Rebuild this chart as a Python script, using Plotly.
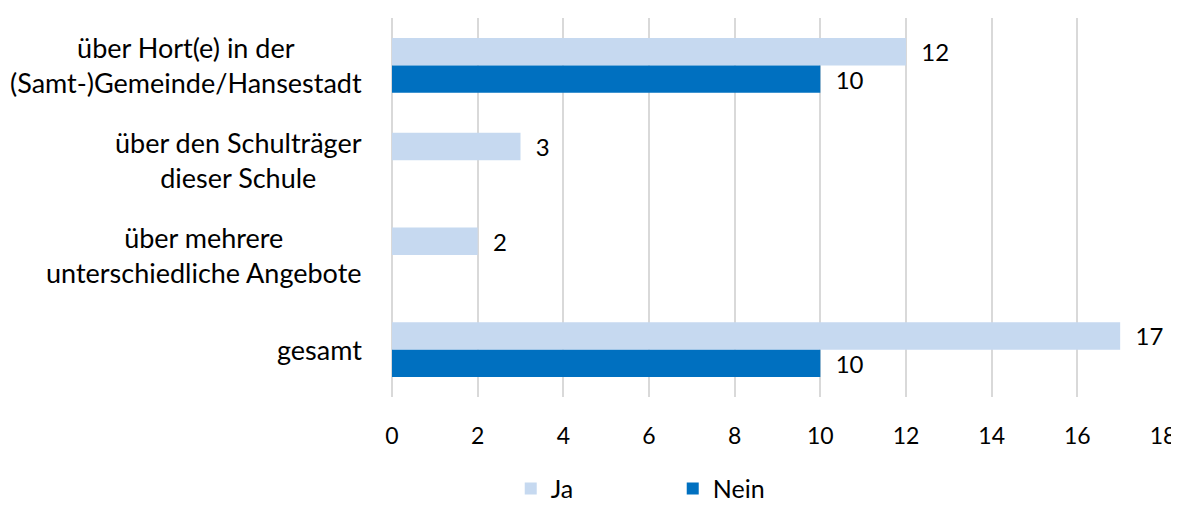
import plotly.graph_objects as go

categories = [
    "über Hort(e) in der<br>(Samt-)Gemeinde/Hansestadt",
    "über den Schulträger<br>dieser Schule",
    "über mehrere<br>unterschiedliche Angebote",
    "gesamt",
]
ja_values = [12, 3, 2, 17]
nein_values = [10, None, None, 10]
x_ticks = [0, 2, 4, 6, 8, 10, 12, 14, 16, 18]

FONT = "Lato"
JA_COLOR = "#C6D9F0"
NEIN_COLOR = "#0070C0"
GRID = "#D9D9D9"

fig = go.Figure()
fig.add_trace(go.Bar(
    name="Ja", y=categories, x=ja_values, orientation="h",
    marker_color=JA_COLOR, marker_line_width=0,
    texttemplate="\u00a0\u00a0%{x}", textposition="outside", constraintext="none",
    textfont=dict(family=FONT, size=24, color="#000000"), cliponaxis=False,
))
fig.add_trace(go.Bar(
    name="Nein", y=categories, x=nein_values, orientation="h",
    marker_color=NEIN_COLOR, marker_line_width=0,
    texttemplate="\u00a0\u00a0%{x}", textposition="outside", constraintext="none",
    textfont=dict(family=FONT, size=24, color="#000000"), cliponaxis=False,
))

for c in categories:
    fig.add_annotation(
        x=0, xref="paper", y=c, yref="y", text=c, showarrow=False,
        xanchor="right", align="center", xshift=-28,
        font=dict(family=FONT, size=27, color="#000000"),
    )

# page body adds an 8px offset; margins compensate for it
fig.update_layout(
    width=1179, height=507,
    margin=dict(l=384, r=24, t=10, b=118, autoexpand=False),
    paper_bgcolor="white", plot_bgcolor="white",
    barmode="group", bargap=0.42, bargroupgap=0,
    font=dict(family=FONT, size=24, color="#000000"),
    showlegend=True,
    legend=dict(
        orientation="h", x=0.154, xanchor="left", y=-0.303, yanchor="bottom",
        traceorder="normal", entrywidth=117,
        font=dict(family=FONT, size=25, color="#000000"),
    ),
)
fig.update_xaxes(
    range=[0, 18], tickvals=x_ticks, ticktext=[str(t) for t in x_ticks],
    showgrid=True, gridcolor=GRID, gridwidth=2,
    zeroline=True, zerolinecolor=GRID, zerolinewidth=2,
    showline=False, ticks="", ticklabelstandoff=23, automargin=False,
    tickfont=dict(family=FONT, size=23, color="#000000"),
)
fig.update_yaxes(
    autorange="reversed", showticklabels=False, showgrid=False,
    zeroline=False, showline=False, ticks="", automargin=False,
)

fig.write_html("out.html")
